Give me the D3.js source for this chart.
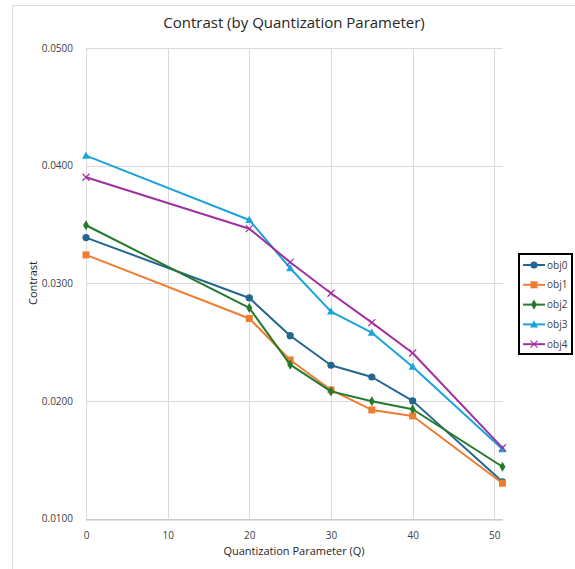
<!DOCTYPE html>
<html><head><meta charset="utf-8">
<script src="https://cdn.jsdelivr.net/npm/d3@7"></script>
<style>body{margin:0;background:#fff}svg{display:block;font-family:"Open Sans",sans-serif}</style>
</head><body><svg id="c" width="575" height="569"></svg>
<script>
const qValues = [0, 20, 25, 30, 35, 40, 51];
const seriesNames = ["obj0", "obj1", "obj2", "obj3", "obj4"];
const obj0 = [0.03388, 0.02875, 0.02554, 0.02303, 0.02203, 0.02000, 0.01312];
const obj1 = [0.03241, 0.02700, 0.02348, 0.02093, 0.01923, 0.01872, 0.01300];
const obj2 = [0.03493, 0.02790, 0.02308, 0.02081, 0.01997, 0.01929, 0.01440];
const obj3 = [0.04085, 0.03538, 0.03128, 0.02759, 0.02580, 0.02291, 0.01589];
const obj4 = [0.03901, 0.03464, 0.03179, 0.02915, 0.02665, 0.02407, 0.01600];
const xTicks = [0, 10, 20, 30, 40, 50];
const yTicks = [0.01, 0.02, 0.03, 0.04, 0.05];
const colors = ["#23668f", "#ed7d31", "#247a2c", "#1ba3dc", "#a0309f"];
const shapes = ["circle", "square", "diamond", "triangle", "cross"];

const series = [obj0, obj1, obj2, obj3, obj4].map((v, i) => ({name: seriesNames[i], color: colors[i], shape: shapes[i], values: v.map((y, j) => ({x: qValues[j], y}))}));

const svg = d3.select("#c");
// frame
svg.append("rect").attr("x", 12.5).attr("y", 5.5).attr("width", 600).attr("height", 600).attr("fill", "none").attr("stroke", "#d9d9d9");

const L = 86, R = 502.5, T = 48, B = 518.5;
const x = d3.scaleLinear().domain([0, 51]).range([L, R]);
const y = d3.scaleLinear().domain([0.01, 0.05]).range([B, T]);

const g = svg.append("g");
// gridlines
g.selectAll(".hg").data(yTicks).join("line").attr("x1", L).attr("x2", R)
  .attr("y1", d => Math.round(y(d)) + 0.5).attr("y2", d => Math.round(y(d)) + 0.5).attr("stroke", "#d9d9d9");
g.selectAll(".vg").data(xTicks).join("line").attr("y1", T).attr("y2", B)
  .attr("x1", d => Math.round(x(d)) + 0.5).attr("x2", d => Math.round(x(d)) + 0.5).attr("stroke", "#d9d9d9");
// axes
const xAxis = d3.axisBottom(x).tickValues(xTicks).tickSize(0).tickPadding(12);
const ax = svg.append("g").attr("transform", `translate(0,${Math.round(B)+0.5})`).call(xAxis);
ax.select(".domain").attr("stroke", "#bfbfbf");
ax.selectAll("text").attr("font-size", 10).attr("fill", "#404040").attr("font-family", "Open Sans");
const yAxis = d3.axisLeft(y).tickValues(yTicks).tickSize(0).tickPadding(13).tickFormat(d3.format(".4f"));
const ay = svg.append("g").attr("transform", `translate(${L},0)`).call(yAxis);
ay.select(".domain").remove();
ay.selectAll("text").attr("font-size", 10).attr("fill", "#404040").attr("font-family", "Open Sans");

// title and labels
svg.append("text").attr("x", 294).attr("y", 28).attr("text-anchor", "middle").attr("font-size", 15).attr("fill", "#262626").text("Contrast (by Quantization Parameter)");
svg.append("text").attr("x", 294).attr("y", 555).attr("text-anchor", "middle").attr("font-size", 11).attr("fill", "#262626").text("Quantization Parameter (Q)");
svg.append("text").attr("transform", "translate(37,283) rotate(-90)").attr("text-anchor", "middle").attr("font-size", 11).attr("fill", "#262626").text("Contrast");

const line = d3.line().x(d => x(d.x)).y(d => y(d.y));

function marker(sel, s, color) {
  if (s === "circle") sel.append("circle").attr("r", 3.6).attr("fill", color);
  else if (s === "square") sel.append("rect").attr("x", -3.5).attr("y", -3.5).attr("width", 7).attr("height", 7).attr("fill", color);
  else if (s === "diamond") sel.append("path").attr("d", d3.symbol(d3.symbolDiamond, 30)()).attr("fill", color);
  else if (s === "triangle") sel.append("path").attr("d", "M0,-4.2L4,3L-4,3Z").attr("fill", color);
  else if (s === "cross") sel.append("path").attr("d", "M-3.5,-3.5L3.5,3.5M-3.5,3.5L3.5,-3.5").attr("stroke", color).attr("stroke-width", 1.2).attr("fill", "none");
}

series.forEach(s => {
  svg.append("path").datum(s.values).attr("d", line).attr("fill", "none").attr("stroke", s.color).attr("stroke-width", 2).attr("stroke-linejoin", "round");
  s.values.forEach(v => {
    const m = svg.append("g").attr("transform", `translate(${x(v.x)},${y(v.y)})`);
    marker(m, s.shape, s.color);
  });
});

// legend
const lg = svg.append("g");
lg.append("rect").attr("x", 519).attr("y", 254).attr("width", 53).attr("height", 100).attr("fill", "#fff").attr("stroke", "#000").attr("stroke-width", 2);
series.forEach((s, i) => {
  const yy = 265 + i * 19.8;
  lg.append("line").attr("x1", 523).attr("x2", 545).attr("y1", yy).attr("y2", yy).attr("stroke", s.color).attr("stroke-width", 2);
  const m = lg.append("g").attr("transform", `translate(534,${yy})`);
  marker(m, s.shape, s.color);
  lg.append("text").attr("x", 547).attr("y", yy + 3.5).attr("font-size", 10).attr("fill", "#404040").text(s.name);
});
</script></body></html>
